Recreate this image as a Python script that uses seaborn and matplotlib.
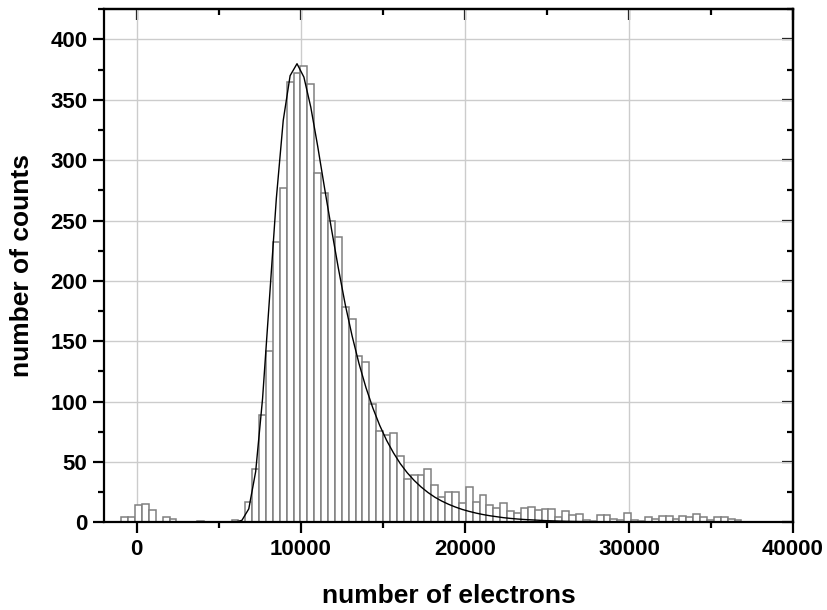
import numpy as np
import pandas as pd
import matplotlib
matplotlib.use("Agg")
import matplotlib.pyplot as plt
import seaborn as sns
from matplotlib.ticker import MultipleLocator

# Histogram data (bins of ~420 electrons starting at -944)
bin_start = -944
bin_width = 420
counts = [4, 4, 14, 15, 10, 0, 4, 3, 0, 0,
          0, 1, 0, 0, 0, 0, 2, 0, 17, 44,
          89, 142, 232, 277, 365, 372, 378, 363, 289, 273,
          250, 236, 178, 168, 138, 133, 98, 76, 72, 74,
          55, 36, 39, 39, 44, 31, 21, 25, 25, 16,
          29, 17, 23, 14, 12, 16, 9, 8, 12, 13,
          10, 11, 11, 4, 9, 6, 7, 2, 1, 6,
          6, 3, 2, 8, 2, 1, 4, 3, 5, 5,
          3, 5, 4, 7, 4, 2, 4, 4, 3, 2]

# Fit curve, read at bin centres from bin 16 onwards
fit_first_bin = 16
fit_values = [0.1, 1.6, 11.1, 42.0, 102.4, 185.0, 268.3, 332.9, 370.0, 379.9,
              368.8, 343.9, 311.6, 276.8, 243.0, 210.5, 180.4, 154.3, 131.4, 111.7,
              94.8, 80.3, 67.9, 57.5, 48.5, 41.0, 34.7, 29.3, 24.7, 20.8,
              17.6, 14.9, 12.6, 10.6, 9.0, 7.6, 6.4, 5.4, 4.6, 3.8,
              3.2, 2.7, 2.3, 2.0, 1.7, 1.4, 1.2, 1.0, 0.8, 0.7,
              0.6, 0.5, 0.4, 0.4, 0.3, 0.3, 0.2, 0.2, 0.2, 0.1]

edges = bin_start + bin_width * np.arange(len(counts) + 1)
centers = edges[:-1] + bin_width / 2
hist_df = pd.DataFrame({"electrons": centers, "counts": counts})
fit_df = pd.DataFrame({
    "electrons": centers[fit_first_bin:fit_first_bin + len(fit_values)],
    "fit": fit_values,
})

sns.set_style("ticks")
plt.rcParams['font.family'] = ['Liberation Sans', 'DejaVu Sans']
plt.rcParams['font.weight'] = 'bold'
plt.rcParams['axes.labelweight'] = 'bold'
plt.rcParams['text.color'] = 'black'
plt.rcParams['axes.labelcolor'] = 'black'
plt.rcParams['xtick.color'] = 'black'
plt.rcParams['ytick.color'] = 'black'
plt.rcParams['axes.edgecolor'] = 'black'

fig, ax = plt.subplots(figsize=(8.28, 6.10), dpi=100)
fig.subplots_adjust(left=0.1256, right=0.9577, top=0.9848, bottom=0.1438)

sns.histplot(data=hist_df, x="electrons", weights="counts",
             binwidth=bin_width, binrange=(float(edges[0]), float(edges[-1])), ax=ax,
             color='white', edgecolor='#808080', linewidth=1.1, alpha=1)
sns.lineplot(data=fit_df, x="electrons", y="fit", ax=ax, color='black', linewidth=1.0)

ax.set_xlim(-2000, 40000)
ax.set_ylim(0, 425)
ax.xaxis.set_major_locator(MultipleLocator(10000))
ax.xaxis.set_minor_locator(MultipleLocator(5000))
ax.yaxis.set_major_locator(MultipleLocator(50))
ax.yaxis.set_minor_locator(MultipleLocator(25))

ax.set_axisbelow(True)
ax.grid(True, which='major', color='#cccccc', linewidth=1.0)

for s in ax.spines.values():
    s.set_linewidth(1.6)
    s.set_color('black')

ax.tick_params(which='major', direction='out', length=8, width=1.6,
               labelsize=16, pad=4, colors='black')
ax.tick_params(which='minor', direction='out', length=4, width=1.6, colors='black')
for lab in ax.get_xticklabels() + ax.get_yticklabels():
    lab.set_fontweight('bold')

# mirrored ticks on top and right, pointing inwards
top = ax.secondary_xaxis('top')
top.xaxis.set_major_locator(MultipleLocator(10000))
top.xaxis.set_minor_locator(MultipleLocator(5000))
top.tick_params(which='major', direction='in', length=8, width=1.6,
                labeltop=False, colors='black')
top.tick_params(which='minor', direction='in', length=4, width=1.6, colors='black')
right = ax.secondary_yaxis('right')
right.yaxis.set_major_locator(MultipleLocator(50))
right.yaxis.set_minor_locator(MultipleLocator(25))
right.tick_params(which='major', direction='in', length=8, width=1.6,
                  labelright=False, colors='black')
right.tick_params(which='minor', direction='in', length=4, width=1.6, colors='black')
for s in list(top.spines.values()) + list(right.spines.values()):
    s.set_linewidth(1.6)
    s.set_color('black')

ax.set_xlabel("number of electrons", fontsize=19, fontweight='bold', labelpad=17)
ax.set_ylabel("number of counts", fontsize=19, fontweight='bold', labelpad=12)

plt.savefig("out.png", dpi=100)
